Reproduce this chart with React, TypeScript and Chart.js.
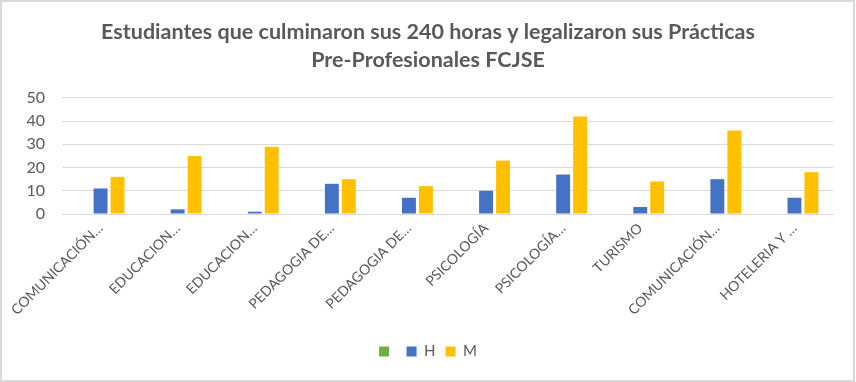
import React, { useEffect, useRef } from 'react';
import { Chart, registerables } from 'chart.js';

Chart.register(...registerables);

const titleLines = [
  'Estudiantes que culminaron sus 240 horas y legalizaron sus Prácticas',
  'Pre-Profesionales FCJSE',
];

const categories = [
  'COMUNICACIÓN…',
  'EDUCACION…',
  'EDUCACION…',
  'PEDAGOGIA DE…',
  'PEDAGOGIA DE…',
  'PSICOLOGÍA',
  'PSICOLOGÍA…',
  'TURISMO',
  'COMUNICACIÓN…',
  'HOTELERIA Y …',
];

const seriesBlank: (number | null)[] = [null, null, null, null, null, null, null, null, null, null];
const seriesH = [11, 2, 1, 13, 7, 10, 17, 3, 15, 7];
const seriesM = [16, 25, 29, 15, 12, 23, 42, 14, 36, 18];

const yMin = 0;
const yMax = 50;
const yStep = 10;

const FONT = 'Lato, "Open Sans", sans-serif';
const GREY = '#595959';

const borderPlugin = {
  id: 'outerBorder',
  afterDraw(chart: any) {
    const ctx = chart.ctx;
    ctx.save();
    ctx.strokeStyle = '#d9d9d9';
    ctx.lineWidth = 2;
    ctx.strokeRect(1, 1, chart.width - 3, chart.height - 2);
    ctx.restore();
  },
};

export default function App() {
  const ref = useRef<HTMLCanvasElement | null>(null);

  useEffect(() => {
    document.body.style.margin = '0';
    if (!ref.current) return;
    const chart = new Chart(ref.current, {
      type: 'bar',
      data: {
        labels: categories,
        datasets: [
          { label: '', data: seriesBlank, backgroundColor: '#70AD47' },
          { label: 'H', data: seriesH, backgroundColor: '#4472C4' },
          { label: 'M', data: seriesM, backgroundColor: '#FFC000' },
        ],
      },
      options: {
        animation: false,
        responsive: false,
        maintainAspectRatio: false,
        layout: { padding: { left: 0, right: 0, top: 0, bottom: 13 } },
        datasets: {
          bar: { categoryPercentage: 0.66, barPercentage: 0.82 },
        },
        plugins: {
          title: {
            display: true,
            text: titleLines,
            color: GREY,
            font: { family: FONT, size: 21.5, weight: 'bold', lineHeight: 1.3 },
            padding: { top: 18, bottom: 24 },
          },
          legend: {
            display: true,
            position: 'bottom',
            labels: {
              boxWidth: 10,
              boxHeight: 10,
              padding: 10,
              color: GREY,
              font: { family: FONT, size: 15 },
            },
          },
          tooltip: { enabled: false },
        },
        scales: {
          x: {
            grid: { display: false, drawTicks: false },
            border: { display: true, color: '#d9d9d9', width: 1 },
            ticks: {
              color: GREY,
              font: { family: FONT, size: 14 },
              maxRotation: 45,
              minRotation: 45,
              autoSkip: false,
              padding: 6,
            },
            afterFit(scale: any) {
              scale.height = 120;
            },
          },
          y: {
            min: yMin,
            max: yMax,
            grid: { color: '#d9d9d9', lineWidth: 1, drawTicks: false },
            border: { display: false },
            ticks: {
              stepSize: yStep,
              color: GREY,
              font: { family: FONT, size: 16 },
              padding: 17,
            },
            afterFit(scale: any) {
              scale.width = 62;
            },
          },
          yRightSpace: {
            position: 'right',
            grid: { display: false, drawTicks: false },
            border: { display: false },
            ticks: { display: false },
            afterFit(scale: any) {
              scale.width = 23;
            },
          },
        },
      },
      plugins: [borderPlugin],
    });
    return () => chart.destroy();
  }, []);

  return (
    <div style={{ width: 856, height: 382 }}>
      <canvas ref={ref} width={856} height={382} style={{ display: 'block' }} />
    </div>
  );
}
